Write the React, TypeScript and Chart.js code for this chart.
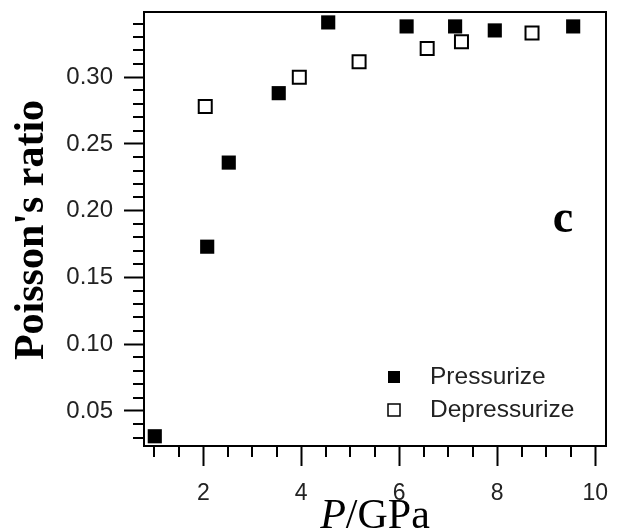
import React, { useEffect, useRef } from 'react';
import { Chart, registerables } from 'chart.js';

Chart.register(...registerables);

// ---- data ----
const pressurizeP = [1.01, 2.08, 2.52, 3.54, 4.55, 6.15, 7.14, 7.95, 9.55];
const pressurizeRatio = [0.031, 0.173, 0.236, 0.288, 0.341, 0.338, 0.338, 0.335, 0.338];
const depressurizeP = [2.04, 3.96, 5.18, 6.57, 7.27, 8.71];
const depressurizeRatio = [0.278, 0.3, 0.3115, 0.3215, 0.3265, 0.333];

const xMajorTicks = [2, 4, 6, 8, 10];
const xMinorTicks = [1, 1.5, 2.5, 3, 3.5, 4.5, 5, 5.5, 6.5, 7, 7.5, 8.5, 9, 9.5];
const yMajorTicks = [0.05, 0.1, 0.15, 0.2, 0.25, 0.3];
const yMinorTicks = [
  0.03, 0.04, 0.06, 0.07, 0.08, 0.09, 0.11, 0.12, 0.13, 0.14,
  0.16, 0.17, 0.18, 0.19, 0.21, 0.22, 0.23, 0.24, 0.26, 0.27, 0.28, 0.29,
  0.31, 0.32, 0.33, 0.34,
];

const seriesLabels = ['Pressurize', 'Depressurize'];
const yTitle = "Poisson's ratio";
const xTitleItalic = 'P';
const xTitleRest = '/GPa';
const panelLabel = 'c';

const X_MIN = 0.79;
const X_MAX = 10.22;
const Y_MIN = 0.0237;
const Y_MAX = 0.3488;

const decorPlugin = {
  id: 'decor',
  afterDraw(chart: any) {
    const { ctx, chartArea } = chart;
    const { left, right, top, bottom } = chartArea;
    const xs = chart.scales.x;
    const ys = chart.scales.y;
    ctx.save();
    // frame
    ctx.strokeStyle = '#000';
    ctx.lineWidth = 2;
    ctx.strokeRect(left, top, right - left, bottom - top);
    // minor ticks
    ctx.lineWidth = 2;
    ctx.beginPath();
    xMinorTicks.forEach((v) => {
      const px = Math.round(xs.getPixelForValue(v));
      ctx.moveTo(px, bottom);
      ctx.lineTo(px, bottom + 11);
    });
    yMinorTicks.forEach((v) => {
      const py = Math.round(ys.getPixelForValue(v));
      ctx.moveTo(left, py);
      ctx.lineTo(left - 11, py);
    });
    ctx.stroke();

    // y title
    ctx.fillStyle = '#000';
    ctx.save();
    ctx.translate(43, 230);
    ctx.rotate(-Math.PI / 2);
    ctx.font = 'bold 42px "Liberation Serif"';
    ctx.textAlign = 'center';
    ctx.textBaseline = 'alphabetic';
    ctx.fillText(yTitle, 0, 0);
    ctx.restore();

    // x title
    ctx.font = 'italic 42px "Liberation Serif"';
    const w1 = ctx.measureText(xTitleItalic).width;
    ctx.font = '42px "Liberation Serif"';
    const w2 = ctx.measureText(xTitleRest).width;
    const cx = (left + right) / 2;
    const sx = cx - (w1 + w2) / 2;
    ctx.textAlign = 'left';
    ctx.textBaseline = 'alphabetic';
    ctx.font = 'italic 42px "Liberation Serif"';
    ctx.fillText(xTitleItalic, sx, 528);
    ctx.font = '42px "Liberation Serif"';
    ctx.fillText(xTitleRest, sx + w1, 528);

    // panel label
    ctx.font = 'bold 46px "Liberation Serif"';
    ctx.textAlign = 'center';
    ctx.fillText(panelLabel, 563, 232);

    // legend
    const rows = [377, 410];
    const mx = 394;
    const s = 12;
    chart.data.datasets.forEach((ds: any, i: number) => {
      const y = rows[i];
      if (i === 0) {
        ctx.fillStyle = '#000';
        ctx.fillRect(mx - s / 2, y - s / 2, s, s);
      } else {
        ctx.strokeStyle = '#000';
        ctx.lineWidth = 1.5;
        ctx.strokeRect(mx - s / 2, y - s / 2, s, s);
      }
      ctx.fillStyle = '#222';
      ctx.font = '24.5px "Liberation Sans"';
      ctx.textAlign = 'left';
      ctx.textBaseline = 'middle';
      ctx.fillText(ds.label, 430, y);
    });
    ctx.restore();
  },
};

export default function App() {
  const ref = useRef<HTMLCanvasElement | null>(null);
  useEffect(() => {
    if (!ref.current) return;
    const chart = new Chart(ref.current, {
      type: 'scatter',
      data: {
        datasets: [
          {
            label: seriesLabels[0],
            data: pressurizeP.map((x, i) => ({ x, y: pressurizeRatio[i] })),
            pointStyle: 'rect',
            pointRadius: 10,
            pointHoverRadius: 10,
            backgroundColor: '#000',
            borderColor: '#000',
            borderWidth: 0,
          },
          {
            label: seriesLabels[1],
            data: depressurizeP.map((x, i) => ({ x, y: depressurizeRatio[i] })),
            pointStyle: 'rect',
            pointRadius: 9.2,
            pointHoverRadius: 9.2,
            backgroundColor: 'rgba(0,0,0,0)',
            borderColor: '#000',
            borderWidth: 2,
          },
        ],
      },
      options: {
        responsive: false,
        animation: false,
        devicePixelRatio: 1,
        layout: { padding: { top: 12, right: 12, left: 0, bottom: 0 } },
        plugins: { legend: { display: false }, tooltip: { enabled: false } },
        scales: {
          x: {
            type: 'linear',
            min: X_MIN,
            max: X_MAX,
            afterBuildTicks: (s: any) => {
              s.ticks = xMajorTicks.map((v) => ({ value: v }));
            },
            afterFit: (s: any) => {
              s.height = 85;
              s.paddingLeft = 0;
              s.paddingRight = 0;
              s.paddingTop = 0;
              s.paddingBottom = 0;
            },
            grid: {
              display: true,
              drawOnChartArea: false,
              drawTicks: true,
              tickLength: 20,
              tickWidth: 2,
              tickColor: '#000',
            },
            border: { display: false },
            ticks: {
              padding: 14,
              color: '#222',
              font: { family: 'Liberation Sans', size: 23 },
              callback: (v: any) => String(v),
              maxRotation: 0,
            },
          },
          y: {
            type: 'linear',
            min: Y_MIN,
            max: Y_MAX,
            afterBuildTicks: (s: any) => {
              s.ticks = yMajorTicks.map((v) => ({ value: v }));
            },
            afterFit: (s: any) => {
              s.width = 144;
              s.paddingLeft = 0;
              s.paddingRight = 0;
              s.paddingTop = 0;
              s.paddingBottom = 0;
            },
            grid: {
              display: true,
              drawOnChartArea: false,
              drawTicks: true,
              tickLength: 20,
              tickWidth: 2,
              tickColor: '#000',
            },
            border: { display: false },
            ticks: {
              padding: 11,
              color: '#222',
              font: { family: 'Liberation Sans', size: 24 },
              callback: (v: any) => Number(v).toFixed(2),
            },
          },
        },
      },
      plugins: [decorPlugin],
    });
    return () => chart.destroy();
  }, []);
  return (
    <div style={{ position: 'fixed', left: 0, top: 0, width: 618, height: 531, background: '#fff' }}>
      <canvas ref={ref} width={618} height={531} style={{ display: 'block' }} />
    </div>
  );
}
